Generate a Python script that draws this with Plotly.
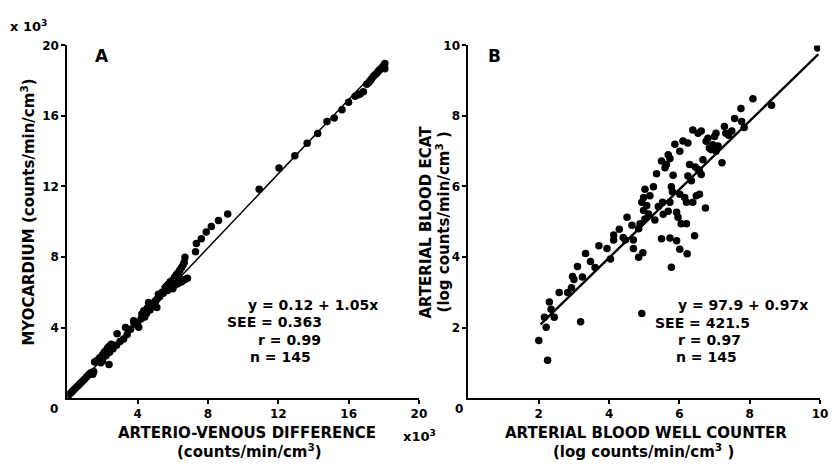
import plotly.graph_objects as go

W, H = 835, 466

# ---------------- Panel A data (x10^3 counts/min/cm3) ----------------
a_x = [0.1, 0.2, 0.3, 0.4, 0.5, 0.6, 0.7, 0.8, 0.9, 1.0, 1.1, 1.2, 1.3, 1.4, 1.5, 1.45,
       1.55, 1.7, 1.85, 2.0, 2.1, 2.2, 2.3, 2.4, 2.5, 2.6, 2.37, 1.9, 2.0, 2.2, 2.4, 2.6,
       2.8, 3.0, 3.2, 3.4, 2.83, 3.31, 3.6, 3.8, 4.0, 4.06, 4.2, 3.77, 4.24, 4.4, 4.5,
       4.62, 4.7, 4.8, 4.9, 5.0, 5.09, 5.1, 5.18, 5.3, 5.4, 5.56, 5.65, 5.75, 5.85, 5.93,
       6.0, 6.1, 6.2, 6.31, 6.3, 6.4, 6.5, 6.59, 6.69, 6.65, 6.69, 6.5, 6.3, 6.1, 5.9,
       6.83, 6.2, 5.7, 7.29, 7.34, 7.62, 7.9, 8.19, 8.6, 9.12, 10.91, 12.04, 12.94, 13.64,
       14.24, 14.77, 15.18, 15.62, 16.0, 16.37, 16.55, 16.65, 16.84, 17.03, 17.15, 17.22,
       17.3, 17.4, 17.5, 17.6, 17.7, 17.78, 17.9, 17.97, 18.06, 18.06,
       4.35, 4.55, 4.75, 5.25, 5.45, 5.0, 5.6, 6.45, 6.0, 5.8]
a_y = [0.2, 0.3, 0.4, 0.5, 0.6, 0.7, 0.8, 0.9, 1.0, 1.1, 1.2, 1.3, 1.4, 1.45, 1.5, 1.35,
       2.05, 2.15, 2.3, 2.45, 2.6, 2.7, 2.85, 2.95, 3.05, 3.0, 1.9, 2.0, 2.1, 2.4, 2.6, 2.8,
       3.0, 3.2, 3.35, 3.6, 3.65, 4.0, 3.9, 4.2, 4.3, 4.02, 4.5, 4.39, 4.77, 4.6, 4.8,
       5.42, 5.0, 5.2, 5.35, 5.5, 5.14, 5.6, 5.88, 5.9, 6.0, 6.26, 6.35, 6.45, 6.6, 6.54,
       6.7, 6.85, 7.0, 6.91, 7.1, 7.25, 7.4, 7.56, 7.99, 7.7, 6.72, 6.6, 6.5, 6.4, 6.3,
       6.8, 6.45, 6.1, 8.3, 8.76, 9.04, 9.41, 9.73, 10.07, 10.44, 11.84, 13.05, 13.74, 14.45,
       15.0, 15.69, 15.88, 16.35, 16.78, 17.11, 17.2, 17.24, 17.37, 17.8, 17.9, 17.99,
       18.1, 18.23, 18.33, 18.42, 18.55, 18.64, 18.75, 18.83, 18.97, 18.68,
       4.95, 5.1, 5.3, 5.75, 5.95, 5.45, 6.15, 6.7, 6.2, 6.25]
a_intercept, a_slope = 0.12, 1.05
a_line_x = [0.0, 18.1]
a_ticks = [4, 8, 12, 16, 20]

# ---------------- Panel B data (log counts/min/cm3) ----------------
b_x = [9.93, 8.09, 8.62, 7.75, 7.57, 7.77, 7.84, 7.28, 7.49, 7.32, 7.04, 7.0, 6.81, 6.76,
       6.95, 6.85, 7.04, 7.21, 6.38, 6.62, 6.53, 6.10, 6.24, 5.87, 6.01, 5.68, 5.73, 5.49,
       5.63, 5.59, 5.35, 6.29, 6.67, 6.53, 6.62, 6.57, 6.24, 6.34, 5.82, 5.77, 6.01, 6.15,
       6.2, 6.38, 6.48, 6.57, 6.74, 5.73, 5.52, 5.40, 5.68, 5.54, 5.92, 5.96, 6.05, 6.2,
       5.26, 5.02, 5.16, 4.98, 4.93, 5.07, 4.98, 5.12, 5.02, 4.88, 4.84, 4.51, 4.65, 4.29,
       4.46, 4.69, 4.69, 4.13, 4.13, 3.94, 3.71, 4.04, 4.84, 4.96, 5.49, 5.73, 5.92, 6.01,
       6.22, 6.43, 5.77, 3.33, 3.47, 3.10, 2.96, 3.0, 3.24, 2.93, 2.82, 2.58, 2.30, 2.35,
       2.16, 2.44, 2.21, 2.0, 2.25, 3.19, 4.93, 6.9, 7.1, 7.4, 5.3, 5.8, 4.4, 3.6, 6.45]
b_y = [9.93, 8.49, 8.30, 8.21, 7.93, 7.84, 7.67, 7.70, 7.57, 7.51, 7.51, 7.42, 7.37, 7.28,
       7.18, 7.09, 7.0, 6.67, 7.60, 7.57, 7.51, 7.29, 7.23, 7.20, 7.0, 6.90, 6.79, 6.72,
       6.62, 6.53, 6.36, 6.62, 6.76, 6.48, 6.34, 6.44, 6.30, 6.16, 6.32, 5.99, 5.78, 5.69,
       5.55, 5.55, 5.74, 5.78, 5.39, 5.55, 5.55, 5.43, 5.30, 5.21, 5.27, 5.13, 4.94, 4.94,
       5.99, 5.92, 5.74, 5.69, 5.55, 5.46, 5.32, 5.22, 5.08, 4.94, 4.80, 5.13, 4.90, 4.79,
       4.48, 4.48, 4.24, 4.62, 4.48, 4.24, 4.32, 3.94, 3.99, 4.12, 4.52, 4.54, 4.46, 4.22,
       4.09, 4.60, 3.71, 4.10, 3.87, 3.73, 3.45, 3.36, 3.43, 3.13, 2.99, 2.99, 2.72, 2.52,
       2.29, 2.29, 2.01, 1.63, 1.07, 2.16, 2.40, 7.05, 7.15, 7.45, 5.05, 5.85, 4.55, 3.7, 6.55]
b_intercept, b_slope = 0.0979, 0.97
b_line_x = [2.05, 9.95]
b_ticks = [2, 4, 6, 8, 10]

FONT = "DejaVu Sans"

fig = go.Figure()

mk = dict(color="black", size=7.5, line=dict(width=0))
fig.add_trace(go.Scatter(x=a_x, y=a_y, mode="markers", marker=mk, xaxis="x", yaxis="y",
                         showlegend=False, hoverinfo="skip"))
fig.add_trace(go.Scatter(x=a_line_x, y=[a_intercept + a_slope * v for v in a_line_x],
                         mode="lines", line=dict(color="black", width=1.5),
                         xaxis="x", yaxis="y", showlegend=False, hoverinfo="skip"))
fig.add_trace(go.Scatter(x=b_x, y=b_y, mode="markers", marker=mk, xaxis="x2", yaxis="y2",
                         showlegend=False, hoverinfo="skip"))
fig.add_trace(go.Scatter(x=b_line_x, y=[b_intercept + b_slope * v for v in b_line_x],
                         mode="lines", line=dict(color="black", width=2.4),
                         xaxis="x2", yaxis="y2", showlegend=False, hoverinfo="skip"))

def px(x):
    return x / W

def py(y):
    return (H - y) / H

tickfont = dict(family=FONT, size=12, color="black", weight="bold")
axis_common = dict(showgrid=False, zeroline=False, showline=True, linecolor="black",
                   linewidth=2, ticks="outside", ticklen=4, tickwidth=1.5, tickcolor="black",
                   tickfont=tickfont, mirror=False)

ydom = [py(397), py(39)]
fig.update_layout(
    width=W, height=H, margin=dict(l=0, r=0, t=0, b=0),
    paper_bgcolor="white", plot_bgcolor="white",
    xaxis=dict(domain=[px(68), px(423)], range=[0, 20], tickvals=a_ticks,
               ticktext=[str(t) for t in a_ticks], anchor="y", **axis_common),
    yaxis=dict(domain=ydom, range=[0, 20], tickvals=a_ticks,
               ticktext=[str(t) for t in a_ticks], anchor="x", **axis_common),
    xaxis2=dict(domain=[px(473), px(828)], range=[0, 10], tickvals=b_ticks,
                ticktext=[str(t) for t in b_ticks], anchor="y2", **axis_common),
    yaxis2=dict(domain=ydom, range=[0, 10], tickvals=b_ticks,
                ticktext=[str(t) for t in b_ticks], anchor="x2", **axis_common),
)

def ann(text, x, y, size=14, xanchor="center", angle=0):
    fig.add_annotation(text=text, x=px(x), y=py(y), xref="paper", yref="paper",
                       xanchor=xanchor, yanchor="middle", showarrow=False, textangle=angle,
                       font=dict(family=FONT, size=size, color="black", weight="bold"))

# corner zeros
ann("0", 55, 408, size=12)
ann("0", 463, 408, size=12)
# panel letters
ann("A", 103, 50, size=17)
ann("B", 499, 50, size=17)
# x10^3 labels
ann("x 10<sup>3</sup>", 8, 19, size=13, xanchor="left")
ann("x10<sup>3</sup>", 405, 436, size=13, xanchor="left")
# axis titles panel A
ann("ARTERIO-VENOUS DIFFERENCE", 249, 432, size=15)
ann("(counts/min/cm<sup>3</sup>)", 252, 451, size=15)
ann("MYOCARDIUM (counts/min/cm<sup>3</sup>)", 28, 208, size=15, angle=-90)
# axis titles panel B
ann("ARTERIAL BLOOD WELL COUNTER", 652, 432, size=15)
ann("(log counts/min/cm<sup>3</sup> )", 650, 451, size=15)
ann("ARTERIAL BLOOD ECAT", 430, 218, size=15, angle=-90)
ann("(log counts/min/cm<sup>3</sup> )", 447, 218, size=15, angle=-90)

# statistics panel A
ann("y = 0.12 + 1.05x", 248, 303, xanchor="left")
ann("SEE = 0.363", 227, 320, xanchor="left")
ann("r = 0.99", 258, 338, xanchor="left")
ann("n = 145", 250, 355, xanchor="left")
# statistics panel B
ann("y = 97.9 + 0.97x", 683, 303, xanchor="left")
ann("SEE = 421.5", 659, 321, xanchor="left")
ann("r = 0.97", 683, 338, xanchor="left")
ann("n = 145", 681, 355, xanchor="left")

fig.write_html("out.html")
